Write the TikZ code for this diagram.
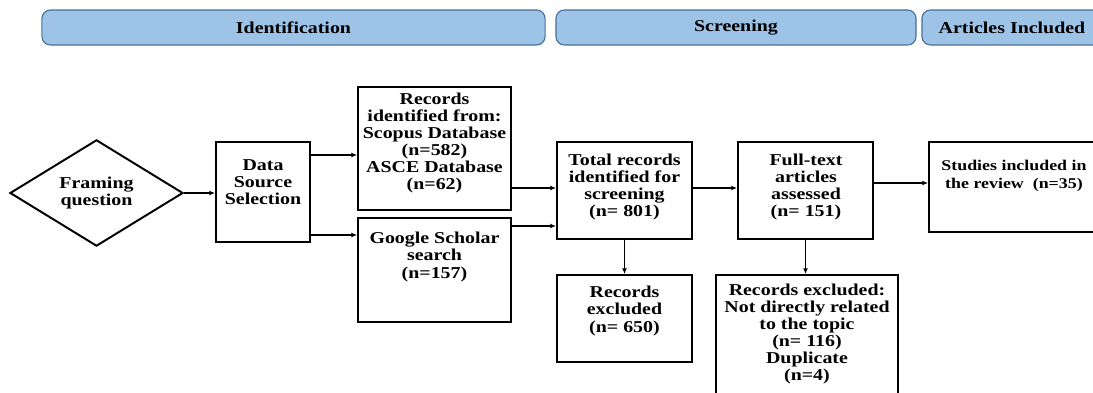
\documentclass[tikz,border=0pt]{standalone}
\usepackage{fontspec}
\setmainfont{Liberation Serif}[FakeStretch=1.2]
\usetikzlibrary{shapes.geometric, arrows.meta}
\definecolor{barfill}{HTML}{9DC3E6}
\definecolor{barline}{HTML}{4A6F96}

\begin{document}
\begin{tikzpicture}[x=0.025cm, y=-0.025cm,
    every node/.style={font=\fontsize{11.8}{12.2}\selectfont\bfseries, align=center},
    box/.style={draw, line width=1.4pt, inner sep=0pt},
    phase/.style={draw=barline, fill=barfill, rounded corners=6pt, line width=0.8pt, minimum height=0.875cm},
    arr/.style={-{Latex[length=4pt,width=3.5pt]}, line width=1.1pt}]
    \clip (0,0) rectangle (1093,393);

    % phase headers
    \node[phase, minimum width=12.575cm] (ident) at (293.5,27.5) {Identification};
    \node[phase, minimum width=9cm] (screen) at (736,27.5) {Screening};
    \node[phase, minimum width=4.5cm] (incl) at (1012,27.5) {Articles Included};

    % boxes
    \node[box, diamond, minimum width=4.325cm, minimum height=2.5cm] (frame) at (96.5,193) {Framing\\question};
    \node[box, minimum width=2.35cm, minimum height=2.5cm] (dss) at (263,192) {};
    \node[box, minimum width=3.825cm, minimum height=3.075cm] (rec) at (434.5,148.5) {};
    \node[box, minimum width=3.825cm, minimum height=2.6cm] (gs) at (434.5,270) {};
    \node[box, minimum width=3.375cm, minimum height=2.425cm] (tot) at (624.5,190.5) {};
    \node[box, minimum width=3.375cm, minimum height=2.425cm] (ft) at (805.5,190.5) {};
    \node[box, minimum width=4.275cm, minimum height=2.25cm] (stu) at (1014.5,187) {};
    \node[box, minimum width=3.375cm, minimum height=2.175cm] (exc1) at (624.5,318.5) {};
    \node[box, minimum width=4.55cm, minimum height=3.125cm] (exc2) at (807,337.5) {};

    % box texts
    \node (dssT) at (263,182) {Data\\Source\\Selection};
    \node (recT) at (434.5,143) {Records\\identified from:\\Scopus Database\\(n=582)\\ASCE Database\\(n=62)};
    \node (gsT) at (434.5,257) {Google Scholar\\search\\(n=157)};
    \node (totT) at (624.5,187) {Total records\\identified for\\screening\\(n= 801)};
    \node (ftT) at (806,187) {Full-text\\articles\\assessed\\ (n= 151)};
    \node[font=\fontsize{10.6}{12.6}\selectfont\bfseries] (stuT) at (1014,176) {Studies included in\\the review\ \ (n=35)};
    \node (exc1T) at (624.5,311) {Records\\excluded\\(n= 650)};
    \node (exc2T) at (807,334) {Records excluded:\\Not directly related\\to the topic\\(n= 116)\\Duplicate\\(n=4)};

    % connectors
    \draw[arr] (frame.east) -- (dss.west |- frame.east);
    \draw[arr] (dss.east |- 0,155) -- (rec.west |- 0,155);
    \draw[arr] (dss.east |- 0,235) -- (gs.west |- 0,235);
    \draw[arr] (rec.east |- 0,188) -- (tot.west |- 0,188);
    \draw[arr] (gs.east |- 0,226) -- (tot.west |- 0,226);
    \draw[arr] (tot.east |- 0,188) -- (ft.west |- 0,188);
    \draw[arr] (ft.east |- 0,183) -- (stu.west |- 0,183);
    \draw[arr, line width=1.4pt] (tot.south) -- (exc1.north);
    \draw[arr, line width=1.4pt] (ft.south) -- (ft.south |- exc2.north);
\end{tikzpicture}
\end{document}
